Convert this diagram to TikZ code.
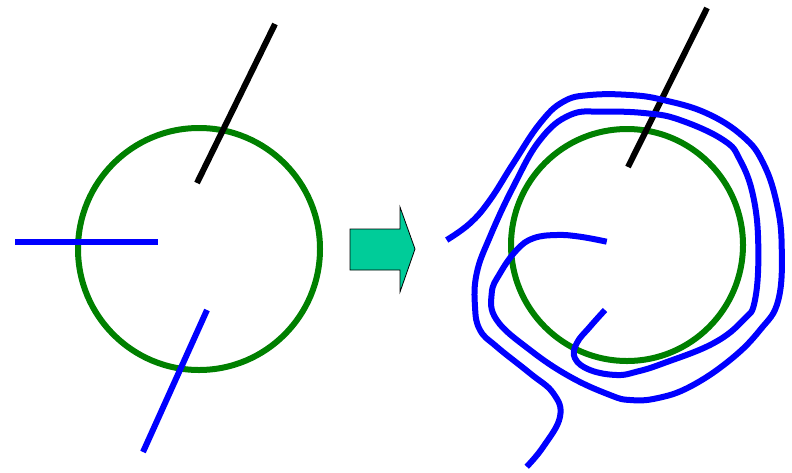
\documentclass[tikz,border=0pt]{standalone}
\begin{document}
\begin{tikzpicture}[x=1pt,y=-1pt,
  ring/.style={draw={rgb,255:red,0;green,128;blue,0},line width=6pt},
  blk/.style={draw=black,line width=6pt},
  wire/.style={draw={rgb,255:red,0;green,0;blue,255},line width=6pt},
  bigarrow/.style={draw=black,line width=0.8pt,fill={rgb,255:red,0;green,204;blue,153},line join=miter}]
\useasboundingbox (0,0) rectangle (792,472);
% left
\draw[ring] (199,249) circle[radius=121];
\coordinate (la) at (197,183); \coordinate (lb) at (275,24);
\draw[blk] (la) -- (lb);
\coordinate (lc) at (15,242); \coordinate (ld) at (158,242);
\draw[wire] (lc) -- (ld);
\coordinate (le) at (207,310); \coordinate (lf) at (143,452);
\draw[wire] (le) -- (lf);
% arrow
\draw[bigarrow] (350,229) -- (400,229) -- (400,207) -- (415,249) -- (400,292) -- (400,270) -- (350,270) -- cycle;
% right
\draw[ring] (627,245) circle[radius=116];
\coordinate (ra) at (628,167); \coordinate (rb) at (707,8);
\draw[blk] (ra) -- (rb);
\draw[wire] plot[smooth,tension=0.7] coordinates {
(526.7,466.7) (543.3,446.7) (560,416.7) (553.3,393.3) (530,373.3) (496.7,346.7)
(480,330) (475,306.7) (476.7,273.3) (490,236.7) (513.3,186.7) (540,140) (570,115)
(603.3,111.7) (646.7,113.3) (680,120) (723.3,140) (740,160) (753.3,196.7)
(758.3,246.7) (755,300) (743.3,320) (713.3,343.3) (663.3,363.3) (636.7,371.7)
(616.7,375) (590,370) (575,358.3) (576.7,343.3) (590,326.7) (605,310)};
\draw[wire] plot[smooth,tension=0.7] coordinates {
(446.7,240) (470,223.3) (490,200) (513.3,163.3) (540,123.3) (563.3,101.7) (590,95)
(630,95) (663.3,100) (706.7,113.3) (743.3,136.7) (763.3,163.3) (776.7,203.3)
(781.7,246.7) (778.3,300) (760,330) (730,360) (690,386.7) (656.7,398.3) (630,400)
(610,395) (570,376.7) (530,350) (496.7,320) (491.7,293.3) (500,273.3) (516.7,250)
(533.3,238.3) (556.7,235) (580,236.7) (606.7,241.7)};
\end{tikzpicture}
\end{document}
